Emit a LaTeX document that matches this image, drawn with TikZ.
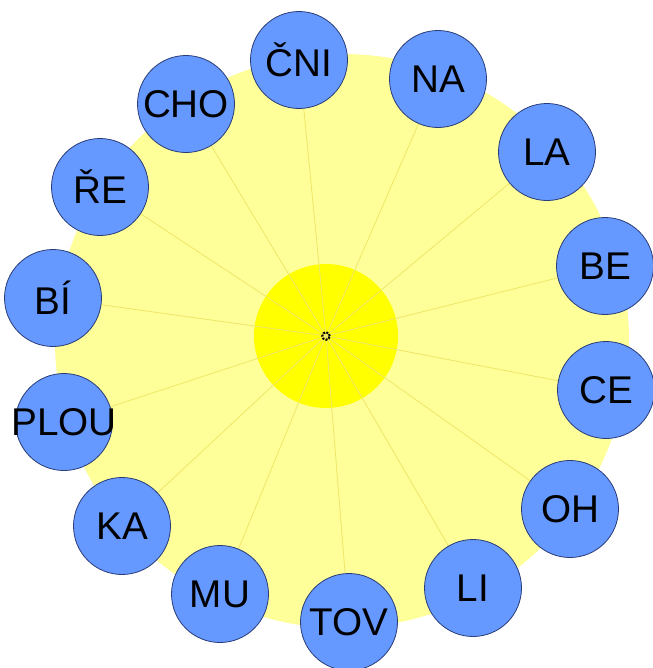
\documentclass[tikz,border=0pt]{standalone}
\usepackage{fontspec}
\setmainfont{Liberation Sans}
\usepackage{xcolor}
\usepackage{tikz}
\usetikzlibrary{backgrounds}
\definecolor{petal}{RGB}{255,255,153}
\definecolor{core}{RGB}{255,255,0}
\definecolor{bubble}{RGB}{102,153,255}
\definecolor{rim}{RGB}{40,60,120}
\definecolor{ray}{RGB}{238,230,105}

\begin{document}
\begin{tikzpicture}[x=0.75pt, y=-0.75pt,
  syllable/.style={circle, draw=rim, fill=bubble, line width=0.6pt, minimum size=72.75pt, inner sep=0pt, text depth=0pt, font=\fontsize{29}{31}\selectfont},
  disc/.style={circle, fill=#1, inner sep=0pt},
  line/.style={draw=ray, line width=0.6pt}]
  \useasboundingbox (0,0) rectangle (653,668);
  \node [syllable] (cni) at (299,60) {ČNI};
  \node [syllable] (na) at (438,79) {NA};
  \node [syllable] (la) at (547,152) {LA};
  \node [syllable] (be) at (605,266) {BE};
  \node [syllable] (ce) at (606,390) {CE};
  \node [syllable] (oh) at (570,509) {OH};
  \node [syllable] (li) at (473,588) {LI};
  \node [syllable] (tov) at (349,622) {TOV};
  \node [syllable] (mu) at (220,594) {MU};
  \node [syllable] (ka) at (122,526) {KA};
  \node [syllable] (plou) at (64,422) {\makebox[0pt]{PLOU}};
  \node [syllable] (bi) at (53,298) {BÍ};
  \node [syllable] (re) at (100,187) {ŘE};
  \node [syllable] (cho) at (186,104) {CHO};
  \begin{scope}[on background layer]
    \node [disc=petal, minimum size=430.5pt] (field) at (342,341) {};
    \node [disc=core, minimum size=108pt] (sun) at (326,336) {};
    \path [line] (sun.center) -- (cni);
    \path [line] (sun.center) -- (na);
    \path [line] (sun.center) -- (la);
    \path [line] (sun.center) -- (be);
    \path [line] (sun.center) -- (ce);
    \path [line] (sun.center) -- (oh);
    \path [line] (sun.center) -- (li);
    \path [line] (sun.center) -- (tov);
    \path [line] (sun.center) -- (mu);
    \path [line] (sun.center) -- (ka);
    \path [line] (sun.center) -- (plou);
    \path [line] (sun.center) -- (bi);
    \path [line] (sun.center) -- (re);
    \path [line] (sun.center) -- (cho);
  \end{scope}
  \draw [densely dotted, line width=1.5pt] (sun.center) circle (2.8pt);
\end{tikzpicture}
\end{document}
